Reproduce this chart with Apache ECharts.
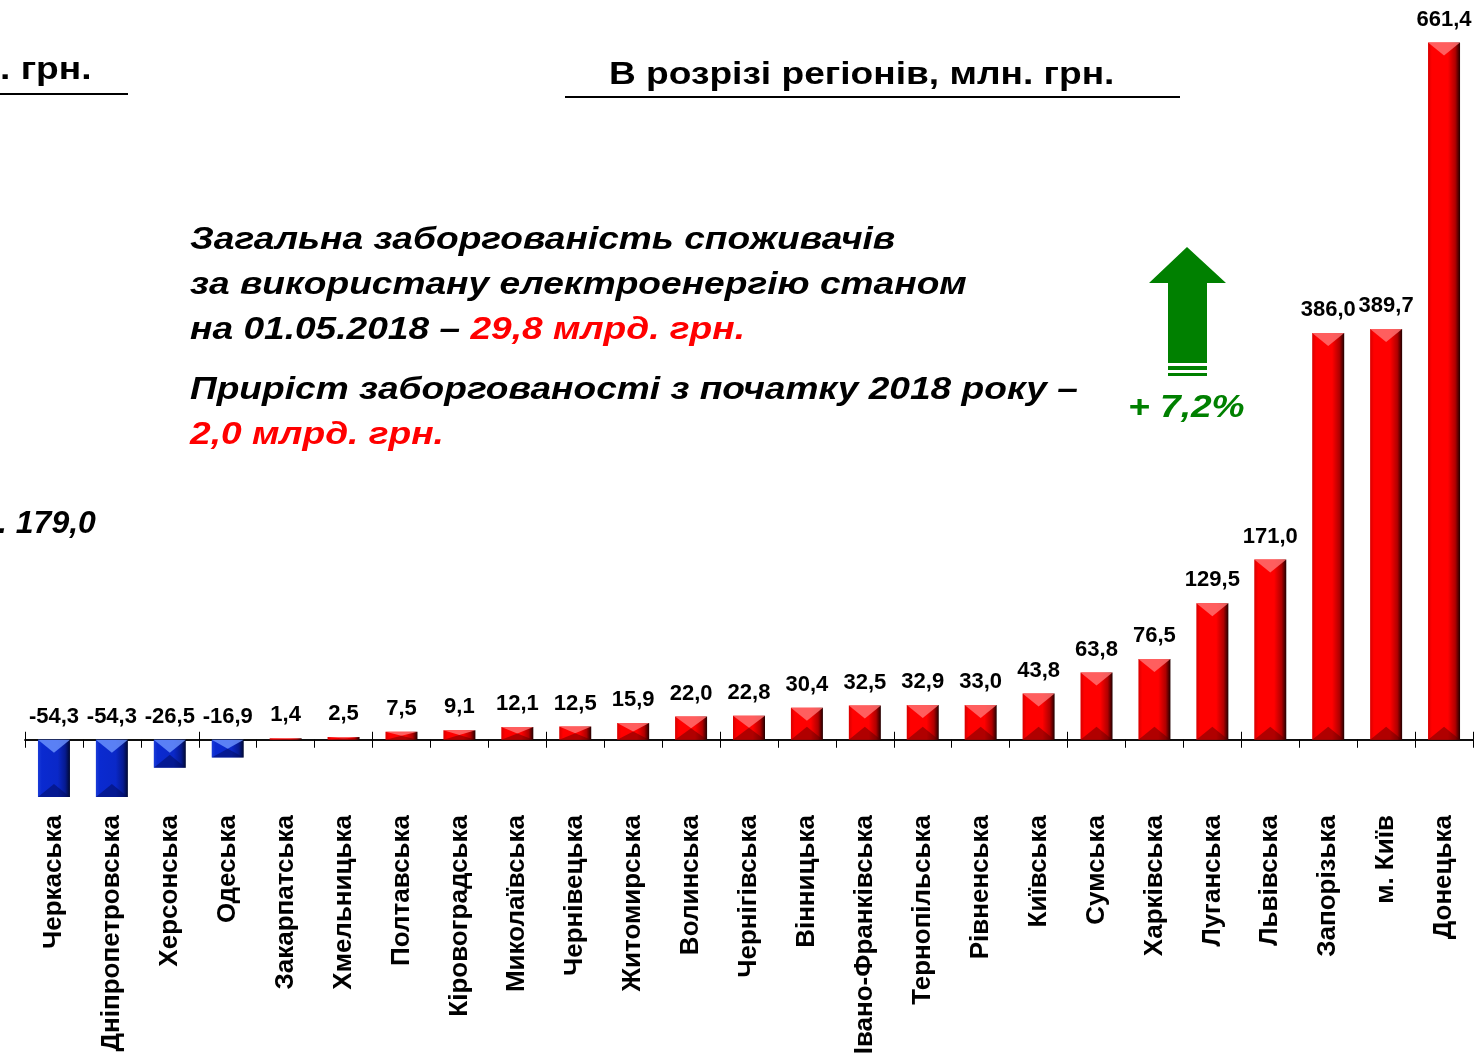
<!DOCTYPE html>
<html>
<head>
<meta charset="utf-8">
<script src="https://cdn.jsdelivr.net/npm/echarts@6/dist/echarts.min.js"></script>
<style>
  html, body { margin: 0; padding: 0; background: #fff; }
  #chart { width: 1475px; height: 1058px; }
</style>
</head>
<body>
<div id="chart"></div>
<script>
// регіони та приріст заборгованості, млн. грн.
var regions = ['Черкаська', 'Дніпропетровська', 'Херсонська', 'Одеська', 'Закарпатська',
  'Хмельницька', 'Полтавська', 'Кіровоградська', 'Миколаївська', 'Чернівецька',
  'Житомирська', 'Волинська', 'Чернігівська', 'Вінницька', 'Івано-Франківська',
  'Тернопільська', 'Рівненська', 'Київська', 'Сумська', 'Харківська',
  'Луганська', 'Львівська', 'Запорізька', 'м. Київ', 'Донецька'];
var growth = [-54.3, -54.3, -26.5, -16.9, 1.4, 2.5, 7.5, 9.1, 12.1, 12.5,
  15.9, 22.0, 22.8, 30.4, 32.5, 32.9, 33.0, 43.8, 63.8, 76.5,
  129.5, 171.0, 386.0, 389.7, 661.4];

var FONT = '"Liberation Sans", Arial, sans-serif';
var SX = 1.16; // слайд трохи розтягнутий по горизонталі

var redGrad = new echarts.graphic.LinearGradient(0, 0, 1, 0, [
  {offset: 0, color: '#d80000'}, {offset: 0.12, color: '#ff0000'},
  {offset: 0.62, color: '#ff0000'}, {offset: 0.85, color: '#b00000'},
  {offset: 1, color: '#200000'}
]);
var blueGrad = new echarts.graphic.LinearGradient(0, 0, 1, 0, [
  {offset: 0, color: '#1a3cd8'}, {offset: 0.12, color: '#0a2ad0'},
  {offset: 0.62, color: '#0a28c8'}, {offset: 0.85, color: '#061a90'},
  {offset: 1, color: '#000830'}
]);

function fmt(v) {
  return v.toFixed(1).replace('.', ',');
}

function txt(x, y, text, font, fill, sx) {
  return {
    type: 'text', x: x, y: y, scaleX: sx || 1,
    style: {text: text, font: font, fill: fill, verticalAlign: 'top', align: 'left'}
  };
}

var bevelData = growth.map(function(v, i) { return [i, v]; });

var myChart = echarts.init(document.getElementById('chart'));

var option = {
  backgroundColor: '#fff',
  animation: false,
  grid: {left: 25, right: 2, top: 23, bottom: 255, outerBoundsMode: 'none', containLabel: false},
  xAxis: [
    {
      type: 'category',
      data: regions,
      axisLine: {onZero: true, onZeroAxisIndex: 0, lineStyle: {color: '#000', width: 1.5}},
      axisTick: {show: true, length: 8, lineStyle: {color: '#000', width: 1}},
      axisLabel: {
        rotate: 90, margin: 12, interval: 0,
        color: '#000', fontFamily: FONT, fontWeight: 'bold', fontSize: 26
      }
    },
    {
      type: 'category',
      data: regions,
      position: 'bottom',
      axisLine: {onZero: true, onZeroAxisIndex: 1, lineStyle: {color: '#000', width: 1.5}},
      axisTick: {show: true, inside: true, length: 8, lineStyle: {color: '#000', width: 1}},
      axisLabel: {show: false}
    }
  ],
  yAxis: [
    {type: 'value', min: -60, max: 680, show: false, splitLine: {show: false}},
    {type: 'value', min: -60, max: 680, show: false, splitLine: {show: false}}
  ],
  series: [
    {
      type: 'bar',
      data: growth,
      barWidth: 32,
      itemStyle: {
        color: function(p) { return p.value < 0 ? blueGrad : redGrad; }
      },
      label: {
        show: true, position: 'top', distance: 12,
        color: '#000', fontFamily: FONT, fontWeight: 'bold', fontSize: 22,
        formatter: function(p) { return fmt(p.value); }
      }
    },
    {
      // фаски зверху та знизу стовпчиків
      type: 'custom',
      data: bevelData,
      encode: {x: 0, y: 1},
      z: 5,
      silent: true,
      renderItem: function(params, api) {
        var v = api.value(1);
        var top = api.coord([api.value(0), v]);
        var base = api.coord([api.value(0), 0]);
        var w = 32;
        var cx = top[0];
        var x0 = cx - w / 2, x1 = cx + w / 2;
        var yT = Math.min(top[1], base[1]), yB = Math.max(top[1], base[1]);
        var d = Math.min(13, (yB - yT) / 2);
        var neg = v < 0;
        return {
          type: 'group',
          children: [
            {
              type: 'polygon',
              shape: {points: [[x0, yT], [x1, yT], [cx, yT + d]]},
              style: {fill: neg ? 'rgba(110,150,255,0.8)' : 'rgba(255,110,110,0.85)'}
            },
            {
              type: 'polygon',
              shape: {points: [[x0, yB], [x1, yB], [cx, yB - d]]},
              style: {fill: neg ? 'rgba(0,10,90,0.5)' : 'rgba(80,0,0,0.45)'}
            }
          ]
        };
      }
    }
  ],
  graphic: [
    // заголовок сусідньої діаграми (обрізаний)
    txt(0, 54, '. грн.', 'bold 32px ' + FONT, '#000', SX),
    {type: 'line', shape: {x1: 0, y1: 94, x2: 128, y2: 94}, style: {stroke: '#000', lineWidth: 2}},
    txt(-2, 508, '. 179,0', 'italic bold 32px ' + FONT, '#000', 1),
    // заголовок
    txt(609, 59, 'В розрізі регіонів, млн. грн.', 'bold 32px ' + FONT, '#000', SX),
    {type: 'line', shape: {x1: 565, y1: 97, x2: 1180, y2: 97}, style: {stroke: '#000', lineWidth: 2}},
    // текст
    txt(190, 224, 'Загальна заборгованість споживачів', 'italic bold 32px ' + FONT, '#000', SX),
    txt(190, 269, 'за використану електроенергію станом', 'italic bold 32px ' + FONT, '#000', SX),
    {
      type: 'text', x: 190, y: 314, scaleX: SX,
      style: {
        text: '{b|на 01.05.2018 – }{r|29,8 млрд. грн.}',
        verticalAlign: 'top',
        rich: {
          b: {font: 'italic bold 32px ' + FONT, fill: '#000'},
          r: {font: 'italic bold 32px ' + FONT, fill: '#ff0000'}
        }
      }
    },
    txt(190, 374, 'Приріст заборгованості з початку 2018 року –', 'italic bold 32px ' + FONT, '#000', SX),
    txt(190, 419, '2,0 млрд. грн.', 'italic bold 32px ' + FONT, '#ff0000', SX),
    // стрілка
    {
      type: 'polygon',
      shape: {points: [[1187, 247], [1226, 283], [1207, 283], [1207, 363], [1168, 363], [1168, 283], [1149, 283]]},
      style: {fill: '#008000'}
    },
    {type: 'rect', shape: {x: 1168, y: 366, width: 39, height: 4}, style: {fill: '#008000'}},
    {type: 'rect', shape: {x: 1168, y: 373, width: 39, height: 3}, style: {fill: '#008000'}},
    txt(1128, 392, '+ 7,2%', 'italic bold 32px ' + FONT, '#008000', SX)
  ]
};

myChart.setOption(option);
</script>
</body>
</html>
